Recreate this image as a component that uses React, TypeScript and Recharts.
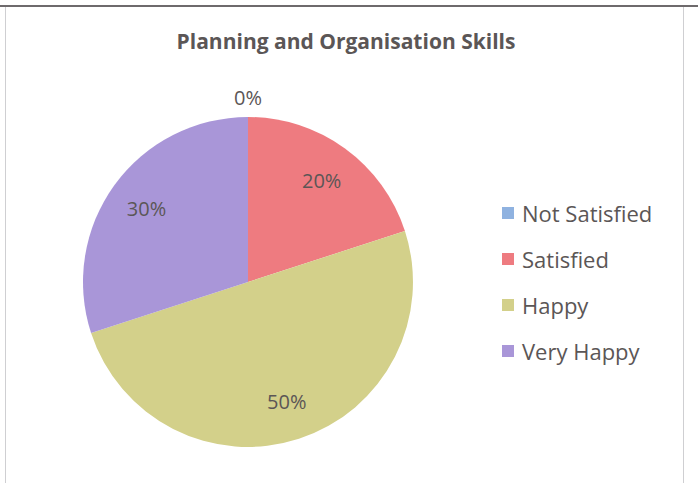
import React from 'react';
import { PieChart, Pie, Cell, Legend } from 'recharts';

const categories = ['Not Satisfied', 'Satisfied', 'Happy', 'Very Happy'];
const values = [0, 20, 50, 30];
const colors = ['#8fb2e0', '#ee7b80', '#d3d08a', '#a996d8'];
const title = 'Planning and Organisation Skills';

const data = categories.map((name, i) => ({ name, value: values[i] }));

const RAD = Math.PI / 180;
const FONT = '"Open Sans", "Noto Sans", sans-serif';
const TEXT = '#5b5656';

const renderLabel = (props: any) => {
  const { cx, cy, midAngle, outerRadius, percent, value } = props;
  const r = value === 0 ? outerRadius + 20 : outerRadius * 0.76;
  const x = cx + r * Math.cos(-midAngle * RAD);
  const y = cy + r * Math.sin(-midAngle * RAD);
  return (
    <text
      x={x}
      y={y}
      fill={TEXT}
      textAnchor="middle"
      dominantBaseline="central"
      style={{ fontFamily: FONT, fontSize: 20 }}
    >
      {`${Math.round(percent * 100)}%`}
    </text>
  );
};

const renderLegend = () => (
  <div style={{ fontFamily: FONT }}>
    {categories.map((name, i) => (
      <div
        key={name}
        style={{
          display: 'flex',
          alignItems: 'center',
          height: 46,
          fontSize: 22,
          color: TEXT,
          whiteSpace: 'nowrap',
        }}
      >
        <span
          style={{
            display: 'inline-block',
            width: 12,
            height: 12,
            background: colors[i],
            marginRight: 8,
          }}
        />
        <span>{name}</span>
      </div>
    ))}
  </div>
);

export default function App() {
  return (
    <div
      style={{
        position: 'absolute',
        left: 0,
        top: 0,
        width: 698,
        height: 483,
        background: '#ffffff',
        overflow: 'hidden',
      }}
    >
      <div style={{ position: 'absolute', left: 0, top: 5, width: 698, height: 2, background: '#6e6a6c' }} />
      <div style={{ position: 'absolute', left: 5, top: 7, width: 1, height: 476, background: '#cfcfd2' }} />
      <div style={{ position: 'absolute', left: 683, top: 7, width: 1, height: 476, background: '#cfcfd2' }} />
      <div
        style={{
          position: 'absolute',
          left: 0,
          top: 27,
          width: 692,
          textAlign: 'center',
          fontFamily: FONT,
          fontWeight: 700,
          fontSize: 21,
          color: TEXT,
          whiteSpace: 'nowrap',
        }}
      >
        {title}
      </div>
      <div style={{ position: 'absolute', left: 0, top: 0 }}>
        <PieChart width={698} height={483} margin={{ top: 0, right: 0, bottom: 0, left: 0 }}>
          <Pie
            data={data}
            dataKey="value"
            nameKey="name"
            cx={248}
            cy={282}
            outerRadius={165}
            startAngle={90}
            endAngle={-270}
            stroke="none"
            label={renderLabel}
            labelLine={false}
            isAnimationActive={false}
          >
            {data.map((d, i) => (
              <Cell key={d.name} fill={colors[i]} />
            ))}
          </Pie>
          <Legend
            layout="vertical"
            content={renderLegend}
            wrapperStyle={{ position: 'absolute', left: 502, top: 190, width: 180 }}
          />
        </PieChart>
      </div>
    </div>
  );
}
